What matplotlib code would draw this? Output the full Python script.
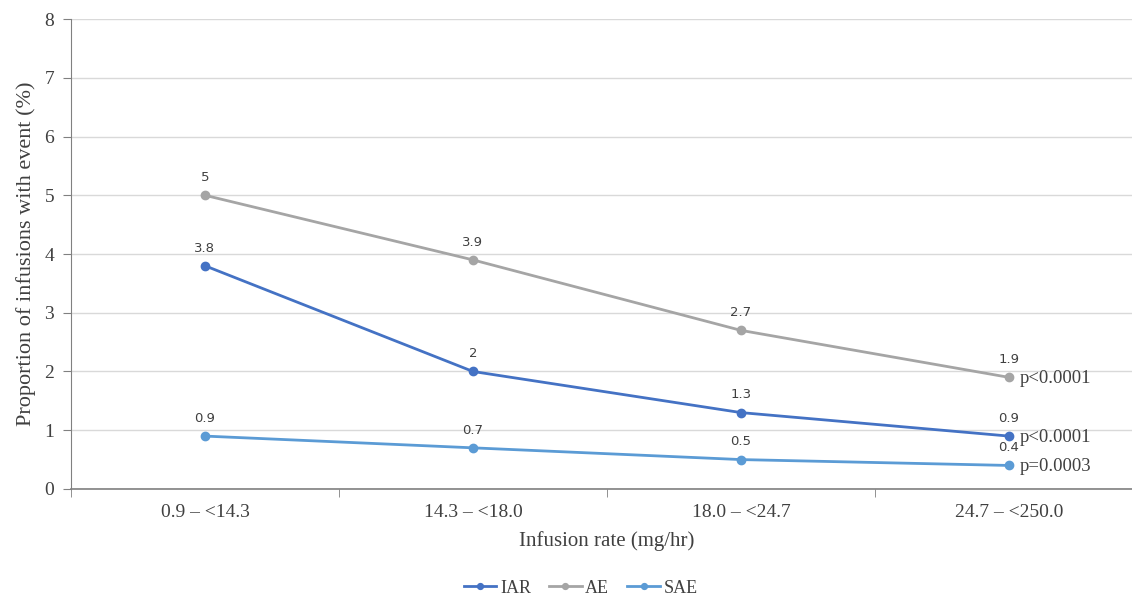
import matplotlib.pyplot as plt
import numpy as np

categories = ["0.9 \u2013 <14.3", "14.3 \u2013 <18.0", "18.0 \u2013 <24.7", "24.7 \u2013 <250.0"]
iar = [3.8, 2.0, 1.3, 0.9]
ae = [5.0, 3.9, 2.7, 1.9]
sae = [0.9, 0.7, 0.5, 0.4]
iar_labels = ["3.8", "2", "1.3", "0.9"]
ae_labels = ["5", "3.9", "2.7", "1.9"]
sae_labels = ["0.9", "0.7", "0.5", "0.4"]
p_values = {"AE": "p<0.0001", "IAR": "p<0.0001", "SAE": "p=0.0003"}

c_iar = "#4472C4"
c_ae = "#A5A5A5"
c_sae = "#5B9BD5"

serif = "Liberation Serif"
fig = plt.figure(figsize=(11.32, 5.97), dpi=100)
ax = fig.add_axes([0.0627, 0.181, 0.947, 0.787])

x = np.arange(len(categories))
series = [("IAR", iar, iar_labels, c_iar), ("AE", ae, ae_labels, c_ae), ("SAE", sae, sae_labels, c_sae)]
for name, vals, labs, col in series:
    ax.plot(x, vals, color=col, lw=2, marker="o", ms=6, label=name, zorder=3, clip_on=False)
    for xi, v, lab in zip(x, vals, labs):
        ax.annotate(lab, (xi, v), xytext=(0, 8), textcoords="offset points",
                    ha="center", va="bottom", fontsize=9.5, color="#404040", family="DejaVu Sans")
    ax.annotate(p_values[name], (x[-1], vals[-1]), xytext=(8, -1), textcoords="offset points",
                ha="left", va="center", fontsize=13.5, color="#404040", family=serif)

ax.set_xlim(-0.5, 3.5)
ax.set_ylim(0, 8)
ax.set_yticks(range(9))
ax.yaxis.grid(True, color="#D9D9D9", lw=1)
ax.set_axisbelow(True)
ax.set_xticks(x)
ax.set_xticklabels(categories)
ax.set_xticks(np.arange(-0.5, 4, 1), minor=True)
ax.tick_params(axis="x", which="major", length=0, pad=11)
ax.tick_params(axis="x", which="minor", length=6, color="#808080", direction="out")
ax.tick_params(axis="y", length=6, color="#808080", direction="out", pad=6)
for lab in ax.get_xticklabels() + ax.get_yticklabels():
    lab.set_family(serif)
    lab.set_fontsize(14)
    lab.set_color("#404040")
for s in ["top", "right"]:
    ax.spines[s].set_visible(False)
ax.spines["left"].set_color("#808080")
ax.spines["bottom"].set_color("#808080")
ax.spines["bottom"].set_linewidth(1.2)

ax.set_xlabel("Infusion rate (mg/hr)", family=serif, fontsize=15, color="#404040", labelpad=7)
ax.set_ylabel("Proportion of infusions with event (%)", family=serif, fontsize=16, color="#404040", labelpad=6)

leg = fig.legend(loc="center", bbox_to_anchor=(0.513, 0.015), ncol=3, frameon=False,
                 prop={"family": serif, "size": 13}, handlelength=1.8, columnspacing=1.0,
                 handletextpad=0.2, markerscale=0.7)
for t in leg.get_texts():
    t.set_color("#404040")

fig.savefig("out.png", dpi=100)
